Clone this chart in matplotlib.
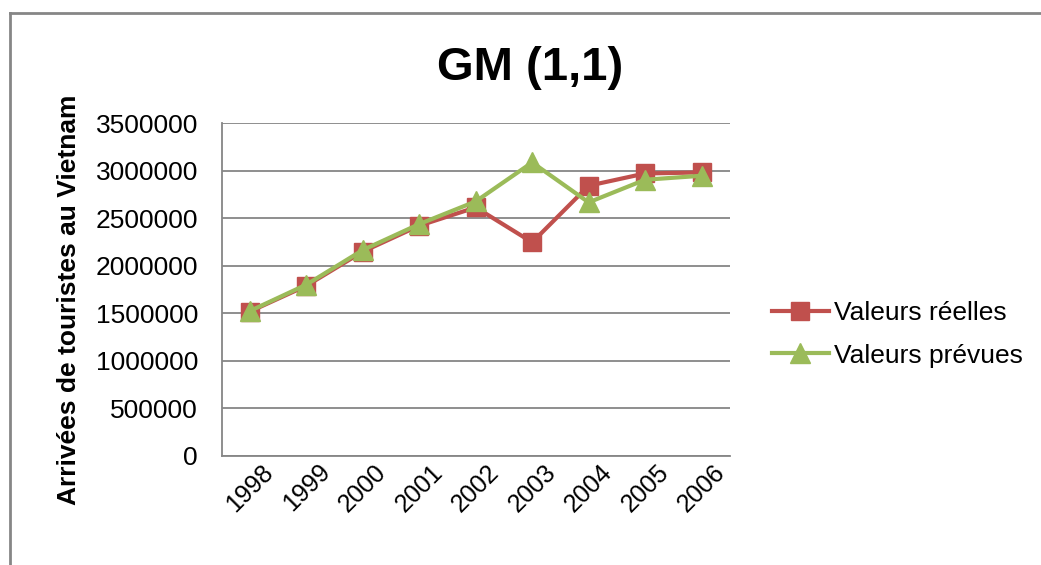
import matplotlib
matplotlib.use('Agg')
import matplotlib.pyplot as plt
from matplotlib.lines import Line2D

plt.rcParams['font.family'] = ['Liberation Sans', 'DejaVu Sans']

# data
years = ['1998', '1999', '2000', '2001', '2002', '2003', '2004', '2005', '2006']
reelles = [1519000, 1790000, 2149000, 2422000, 2614000, 2247000, 2842000, 2971000, 2982000]
prevues = [1525000, 1802000, 2166000, 2439000, 2677000, 3087000, 2667000, 2905000, 2947000]
yticks = [0, 500000, 1000000, 1500000, 2000000, 2500000, 3000000, 3500000]

red = '#C0504D'
green = '#9BBB59'
grid_col = '#868686'

fig = plt.figure(figsize=(10.41, 5.65), dpi=100)
ax = fig.add_axes([0.213, 0.193, 0.488, 0.589])

x = list(range(len(years)))
ax.plot(x, reelles, color=red, lw=3, marker='s', markersize=13, label='Valeurs réelles', zorder=3)
ax.plot(x, prevues, color=green, lw=3, marker='^', markersize=14, label='Valeurs prévues', zorder=4)

ax.set_xlim(-0.5, len(years) - 0.5)
ax.set_ylim(0, 3500000)
ax.set_yticks(yticks)
ax.set_yticklabels([str(v) for v in yticks], fontsize=19)
ax.set_xticks(x)
ax.set_xticklabels(years, fontsize=18, rotation=45, ha='center', va='center', rotation_mode='anchor')
ax.tick_params(axis='y', length=0, pad=17)
ax.tick_params(axis='x', length=0, pad=23)

ax.grid(axis='y', color=grid_col, lw=1.3)
ax.set_axisbelow(True)
for side in ['top', 'right']:
    ax.spines[side].set_visible(False)
ax.spines['left'].set_color(grid_col)
ax.spines['bottom'].set_color(grid_col)
ax.spines['left'].set_linewidth(1.3)
ax.spines['bottom'].set_linewidth(1.3)

ax.set_ylabel('Arrivées de touristes au Vietnam', fontsize=19, fontweight='bold')
ax.yaxis.set_label_coords(-0.277, 0.47)
fig.text(0.509, 0.88, 'GM (1,1)', fontsize=34, fontweight='bold', ha='center', va='center')

ax.legend(loc='center left', bbox_to_anchor=(1.036, 0.365), frameon=False, fontsize=19,
          handlelength=2.15, labelspacing=0.7, handletextpad=0.2)

# outer chart border (left and top only visible)
fig.add_artist(Line2D([10 / 1041, 10 / 1041], [0, 1 - 13 / 565], color=grid_col, lw=2,
                      transform=fig.transFigure))
fig.add_artist(Line2D([10 / 1041, 1], [1 - 13 / 565, 1 - 13 / 565], color=grid_col, lw=2,
                      transform=fig.transFigure))

plt.savefig('out.png', dpi=100)
